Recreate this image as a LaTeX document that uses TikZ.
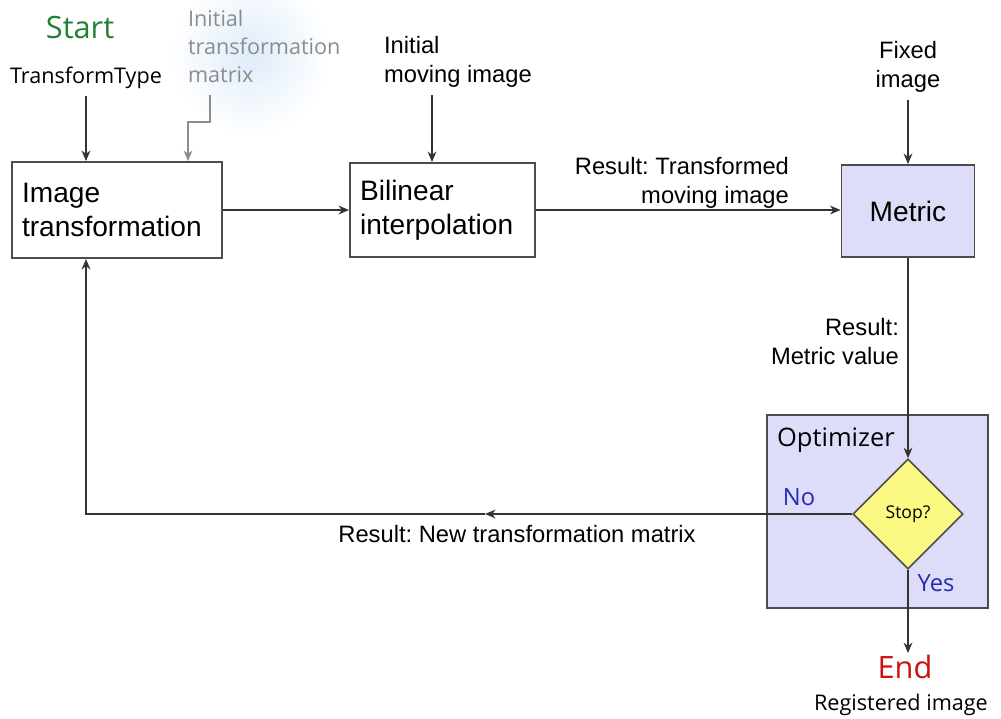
\documentclass[tikz,border=0pt]{standalone}
\usepackage{fontspec}
\setmainfont{Liberation Sans}
\newfontfamily\segoe{Open Sans}
\usetikzlibrary{arrows.meta, shapes.geometric}
\frenchspacing

\definecolor{startgreen}{RGB}{34,128,52}
\definecolor{endred}{RGB}{204,16,16}
\definecolor{answerblue}{RGB}{40,40,176}
\definecolor{boxlilac}{RGB}{221,221,250}
\definecolor{stopyellow}{RGB}{250,250,130}
\definecolor{initgray}{RGB}{140,140,140}
\definecolor{glowblue}{RGB}{222,236,250}

\begin{document}
\begin{tikzpicture}[x=0.02cm, y=-0.02cm, >={Stealth[length=6pt, width=5pt]},
    box/.style={draw=black!70, line width=1.1pt, inner xsep=0.2cm, align=left,
        font=\fontsize{16}{19.5}\selectfont},
    flow/.style={->, draw=black!80, line width=0.9pt},
    lbl/.style={font=\fontsize{13.5}{16.5}\selectfont, inner sep=1pt},
    seg/.style={font=\segoe\fontsize{12.3}{16}\selectfont, inner sep=1pt}]

    % ==========================================
    % 1. CANVAS & GLOW
    % ==========================================
    \useasboundingbox (0,0) rectangle (1001,718);
    \shade[inner color=glowblue, outer color=white] (250,55) circle (1.6cm);

    % ==========================================
    % 2. PROCESS BOXES
    % ==========================================
    \node[box, text width=3.8cm, minimum height=1.92cm] (imgtf) at (117,210) {Image\\transformation};
    \node[box, text width=3.3cm, minimum height=1.88cm] (bilin) at (442.5,210) {Bilinear\\interpolation};
    \node[box, fill=boxlilac, align=center, minimum width=2.66cm, minimum height=1.84cm] (metric) at (908,211) {Metric};

    % Optimizer block with the stop test inside
    \node[draw=black!70, line width=1.1pt, fill=boxlilac, minimum width=4.42cm, minimum height=3.86cm] (optim) at (877.5,511.5) {};
    \node[seg, font=\segoe\fontsize{14.5}{17}\selectfont, anchor=west] (optlbl) at (775,440) {Optimizer};
    \node[diamond, draw=black!70, line width=0.9pt, fill=stopyellow, minimum width=2.2cm, minimum height=2.2cm,
        inner sep=0pt, font=\segoe\fontsize{10}{12}\selectfont] (stop) at (908,514) {Stop?};

    % ==========================================
    % 3. INPUT & OUTPUT LABELS
    % ==========================================
    \node[seg, text=startgreen, font=\segoe\fontsize{17.5}{20}\selectfont] (start) at (80,28) {Start};
    \node[seg] (ttype) at (86,78) {TransformType};
    \node[seg, text=initgray, align=left, anchor=west] (initm) at (186,46) {Initial\\transformation\\matrix};
    \node[lbl, align=left, anchor=west] (initmov) at (382,62) {Initial\\moving image};
    \node[lbl, align=center] (fixed) at (908,67) {Fixed\\image};
    \node[lbl, align=right, anchor=east] (restf) at (791,183) {Result: Transformed\\moving image};
    \node[lbl, align=right, anchor=east] (resmet) at (901,342) {Result:\\Metric value};
    \node[lbl] (resnew) at (517,534) {Result: New transformation matrix};
    \node[seg, text=answerblue, font=\segoe\fontsize{13.5}{16}\selectfont] (no) at (799,497) {No};
    \node[seg, text=answerblue, font=\segoe\fontsize{13.5}{16}\selectfont] (yes) at (936,583) {Yes};
    \node[seg, text=endred, font=\segoe\fontsize{17.5}{20}\selectfont] (end) at (905,667) {End};
    \node[seg] (regimg) at (901,705) {Registered image};

    % ==========================================
    % 4. CONNECTORS
    % ==========================================
    \coordinate (mfoot) at (210,95);
    \coordinate (mturn) at (188,122);
    \coordinate (movfoot) at (432,95);
    \coordinate (fbmid) at (485,514);

    \draw[flow, shorten <=3pt] (ttype.south) -- (ttype.south |- imgtf.north);
    \draw[flow, draw=initgray] (mfoot) -- (mfoot |- mturn) -- (mturn) -- (mturn |- imgtf.north);
    \draw[flow] (movfoot) -- (movfoot |- bilin.north);
    \draw[flow, shorten <=3pt] (fixed.south) -- (fixed.south |- metric.north);

    \draw[flow] (imgtf.east) -- (bilin.west);
    \draw[flow] (bilin.east) -- (bilin.east -| metric.west);
    \draw[flow] (metric.south) -- (stop.north);

    % Feedback loop back to the transformation
    \draw[flow] (fbmid) -| (ttype.south |- imgtf.south);
    \draw[flow] (stop.west) -- (fbmid);

    \draw[flow] (stop.south) -- (stop.south |- end.north);

\end{tikzpicture}
\end{document}
